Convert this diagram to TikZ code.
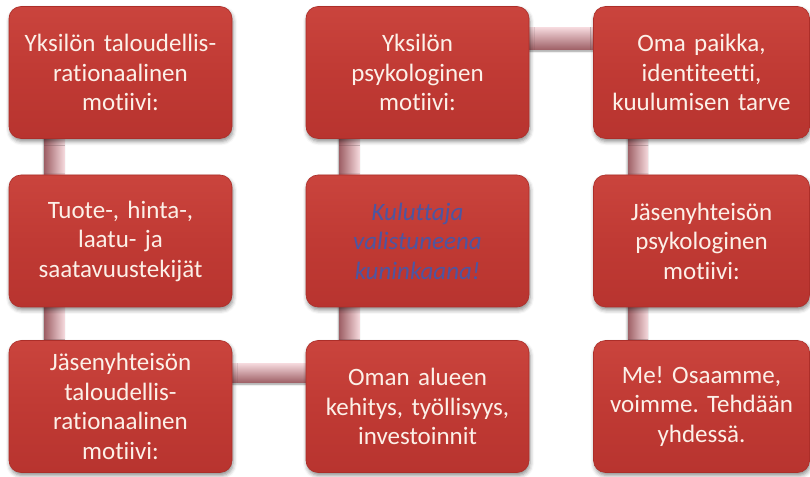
\documentclass[tikz,border=0pt]{standalone}
\usepackage{fontspec}
\setmainfont{Carlito}[Ligatures=NoCommon]
\usetikzlibrary{calc,shadows.blur}
\definecolor{boxred}{RGB}{192,58,52}
\definecolor{boxtop}{RGB}{202,68,61}
\definecolor{boxbot}{RGB}{184,52,47}
\definecolor{boxline}{RGB}{172,46,41}
\definecolor{cream}{RGB}{252,240,232}
\definecolor{kingblue}{RGB}{76,86,162}
\definecolor{barlight}{RGB}{246,218,222}
\definecolor{barmid}{RGB}{206,140,148}
\definecolor{bardark}{RGB}{160,98,104}
\pgfdeclarelayer{bg}
\pgfsetlayers{bg,main}
\tikzset{
  motive/.style={rectangle, rounded corners=12pt, minimum width=223pt,
    minimum height=132pt, inner sep=0pt, align=center, text width=214pt,
    top color=boxtop, bottom color=boxbot, middle color=boxred,
    draw=boxline, line width=0.6pt, text=cream,
    font=\fontsize{25}{29.5}\selectfont,
    blur shadow={shadow xshift=1pt, shadow yshift=-3pt, shadow blur radius=4pt, shadow opacity=45}},
  hbar/.style={top color=barlight, middle color=barmid, bottom color=bardark,
    blur shadow={shadow xshift=0pt, shadow yshift=-2pt, shadow blur radius=2pt, shadow opacity=40}},
  vbar/.style={left color=bardark, middle color=barmid, right color=barlight,
    blur shadow={shadow xshift=-1pt, shadow yshift=0pt, shadow blur radius=2pt, shadow opacity=40}}
}
\frenchspacing
\begin{document}
\begin{tikzpicture}[x=1pt,y=1pt]
  \useasboundingbox (0,0) rectangle (810,476);
  % first column
  \node[motive] (a1) at (120.5,403.5) {Yksilön taloudellis-\\rationaalinen\\motiivi:};
  \node[motive] (a2) at (120.5,235) {Tuote-, hinta-,\\laatu- ja\\saatavuustekijät};
  \node[motive] (a3) at (120.5,69.5) {Jäsenyhteisön\\taloudellis-\\rationaalinen\\motiivi:};
  % second column
  \node[motive] (b1) at (417.5,403.5) {Yksilön\\psykologinen\\motiivi:};
  \node[motive, text=kingblue, font=\fontsize{25}{29.5}\selectfont\itshape] (b2) at (417.5,235) {Kuluttaja\\valistuneena\\kuninkaana!};
  \node[motive] (b3) at (417.5,69.5) {Oman alueen\\kehitys, työllisyys,\\investoinnit};
  % third column, cut at the right margin
  \node[motive, minimum width=216pt, text width=210pt] (c1) at (701.5,403.5) {Oma paikka,\\identiteetti,\\kuulumisen tarve};
  \node[motive, minimum width=216pt, text width=210pt] (c2) at (701.5,235) {Jäsenyhteisön\\psykologinen\\motiivi:};
  \node[motive, minimum width=216pt, text width=210pt] (c3) at (701.5,69.5) {Me! Osaamme,\\voimme. Tehdään\\yhdessä.};
  % connecting bars behind the boxes
  \begin{pgfonlayer}{bg}
    \shade[vbar] ($(a1.south west)+(36,6)$) rectangle ($(a2.north west)+(56,-6)$);
    \shade[vbar] ($(a2.south west)+(36,6)$) rectangle ($(a3.north west)+(56,-6)$);
    \shade[hbar] ($(a3.north east)+(-6,-23)$) rectangle ($(b3.north west)+(6,-42)$);
    \shade[vbar] ($(b3.north west)+(34,-6)$) rectangle ($(b2.south west)+(54,6)$);
    \shade[vbar] ($(b2.north west)+(34,-6)$) rectangle ($(b1.south west)+(54,6)$);
    \shade[hbar] ($(b1.north east)+(-6,-21)$) rectangle ($(c1.north west)+(6,-43)$);
    \shade[vbar] ($(c1.south west)+(35,6)$) rectangle ($(c2.north west)+(55,-6)$);
    \shade[vbar] ($(c2.south west)+(35,6)$) rectangle ($(c3.north west)+(55,-6)$);
  \end{pgfonlayer}
\end{tikzpicture}
\end{document}
